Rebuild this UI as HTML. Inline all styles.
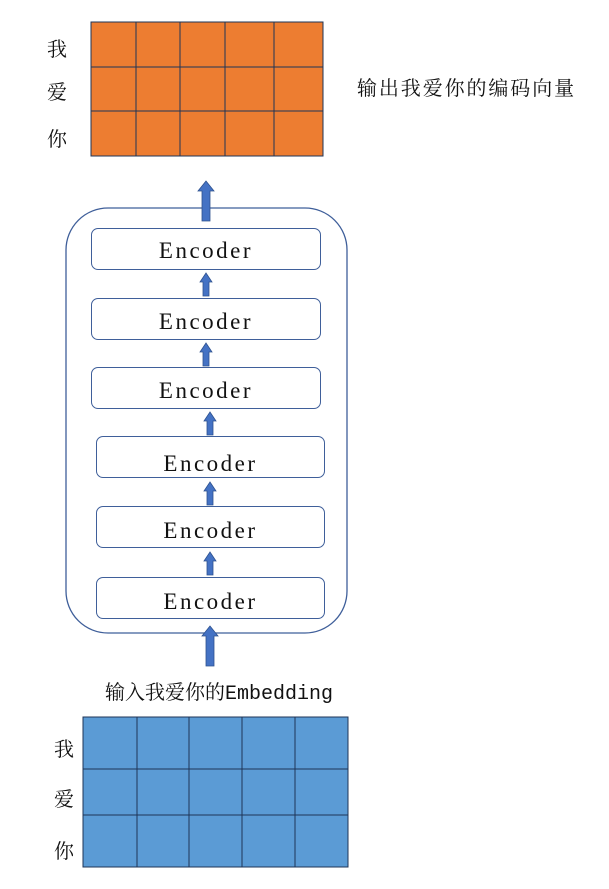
<!DOCTYPE html>
<html><head><meta charset="utf-8"><style>
body{margin:0;width:609px;height:889px;background:#fff;overflow:hidden;position:relative;font-family:"Liberation Mono","Noto Serif CJK SC",monospace;}
.t{position:absolute;color:#111;white-space:nowrap;}
.enc{position:absolute;border:1.3px solid #3f5f9a;border-radius:7px;box-sizing:border-box;text-align:center;font-size:23px;font-family:"Liberation Serif",serif;letter-spacing:2.5px;color:#111;}
</style></head><body>
<svg width="609" height="889" style="position:absolute;left:0;top:0">
<g stroke="#1f3557" stroke-width="1">
<rect x="91" y="22" width="232" height="134" fill="#ed7d31"/>
<line x1="91" y1="67" x2="323" y2="67"/><line x1="91" y1="111" x2="323" y2="111"/>
<line x1="136" y1="22" x2="136" y2="156"/><line x1="180" y1="22" x2="180" y2="156"/><line x1="225" y1="22" x2="225" y2="156"/><line x1="274" y1="22" x2="274" y2="156"/>
<rect x="83" y="717" width="265" height="150" fill="#5b9bd5"/>
<line x1="83" y1="769" x2="348" y2="769"/><line x1="83" y1="815" x2="348" y2="815"/>
<line x1="137" y1="717" x2="137" y2="867"/><line x1="189" y1="717" x2="189" y2="867"/><line x1="242" y1="717" x2="242" y2="867"/><line x1="295" y1="717" x2="295" y2="867"/>
</g>
<rect x="66" y="208" width="281" height="425" rx="42" fill="none" stroke="#3f5f9a" stroke-width="1.3"/>
<g fill="#4472c4" stroke="#2f528f" stroke-width="0.8">
<path d="M202 221V191H198L206 181L214 191H210V221Z"/>
<path d="M203 296V282H200L206 273L212 282H209V296Z"/>
<path d="M203 366V352H200L206 343L212 352H209V366Z"/>
<path d="M207 435V421H204L210 412L216 421H213V435Z"/>
<path d="M207 505V491H204L210 482L216 491H213V505Z"/>
<path d="M207 575V561H204L210 552L216 561H213V575Z"/>
<path d="M206 666V636H202L210 626L218 636H214V666Z"/>
</g>
</svg>
<div class="t" style="left:47px;top:33px;font-size:20px">我</div>
<div class="t" style="left:47px;top:76px;font-size:20px">爱</div>
<div class="t" style="left:47px;top:123px;font-size:20px">你</div>
<div class="t" style="left:357px;top:72px;font-size:20px;letter-spacing:1.9px">输出我爱你的编码向量</div>
<div class="enc" style="left:91px;top:228px;width:230px;height:42px;line-height:43px">Encoder</div>
<div class="enc" style="left:91px;top:298px;width:230px;height:42px;line-height:45px">Encoder</div>
<div class="enc" style="left:91px;top:367px;width:230px;height:42px;line-height:45px">Encoder</div>
<div class="enc" style="left:96px;top:436px;width:229px;height:42px;line-height:54px">Encoder</div>
<div class="enc" style="left:96px;top:506px;width:229px;height:42px;line-height:48px">Encoder</div>
<div class="enc" style="left:96px;top:577px;width:229px;height:42px;line-height:48px">Encoder</div>
<div class="t" style="left:105px;top:676px;font-size:20px">输入我爱你的Embedding</div>
<div class="t" style="left:54px;top:733px;font-size:20px">我</div>
<div class="t" style="left:54px;top:783px;font-size:20px">爱</div>
<div class="t" style="left:54px;top:835px;font-size:20px">你</div>
</body></html>
